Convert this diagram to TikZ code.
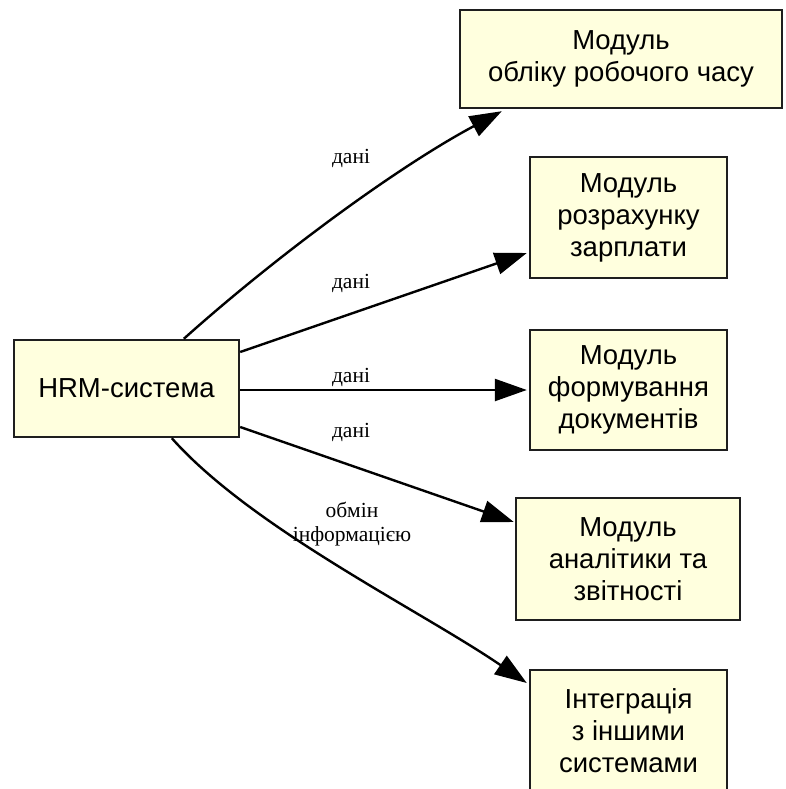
\documentclass[tikz,border=0pt]{standalone}
\usepackage{fontspec}
\setmainfont{Liberation Serif}
\newfontfamily\boxfont{Liberation Sans}
\usetikzlibrary{arrows.meta}
\definecolor{boxfill}{RGB}{255,255,222}
\definecolor{boxline}{RGB}{30,30,30}
\tikzset{
  modbox/.style={draw=boxline, line width=2.4pt, fill=boxfill, inner sep=0pt,
    align=center, font=\boxfont\fontsize{27.5}{32}\selectfont, text=black},
  flow/.style={line width=2.4pt, -{Triangle[length=32pt,width=22pt]}},
  flowlabel/.style={font=\fontsize{21.5}{24}\selectfont, align=center, inner sep=0pt}
}
\begin{document}
\begin{tikzpicture}[x=1pt,y=-1pt]
\useasboundingbox (0,0) rectangle (785,789);

% central system and its modules
\node[modbox, minimum width=225pt, minimum height=97pt] (hrm) at (126.5,388.5) {HRM-система};
\node[modbox, minimum width=322pt, minimum height=98pt] (m1) at (621,59) {Модуль\\обліку робочого часу};
\node[modbox, minimum width=197pt, minimum height=121pt] (m2) at (628.5,217.5) {Модуль\\розрахунку\\зарплати};
\node[modbox, minimum width=197pt, minimum height=120pt] (m3) at (628.5,390) {Модуль\\формування\\документів};
\node[modbox, minimum width=224pt, minimum height=122pt] (m4) at (628,559) {Модуль\\аналітики та\\звітності};
\node[modbox, minimum width=197pt, minimum height=121pt] (m5) at (628.5,730.5) {Інтеграція\\з іншими\\системами};

% connectors
\draw[flow] ([xshift=171pt]hrm.north west)
  .. controls +(95,-85) and +(-103,55) .. ([xshift=43pt,yshift=-2pt]m1.south west);
\draw[flow] ([yshift=36.5pt]hrm.east) -- ([xshift=-2pt,yshift=-35.5pt]m2.west);
\draw[flow] ([yshift=-1.5pt]hrm.east) -- ([xshift=-2pt]m3.west);
\draw[flow] ([yshift=-38.5pt]hrm.east) -- ([xshift=-1pt,yshift=37pt]m4.west);
\draw[flow] ([xshift=159pt]hrm.south west)
  .. controls +(80,90) and +(-107,-73) .. ([xshift=-2pt,yshift=47.5pt]m5.west);

% connector labels
\node[flowlabel] (l1) at (351,158) {дані};
\node[flowlabel] (l2) at (351,283) {дані};
\node[flowlabel] (l3) at (351,377) {дані};
\node[flowlabel] (l4) at (351,432) {дані};
\node[flowlabel] (l5) at (352,524) {обмін\\інформацією};
\end{tikzpicture}
\end{document}
